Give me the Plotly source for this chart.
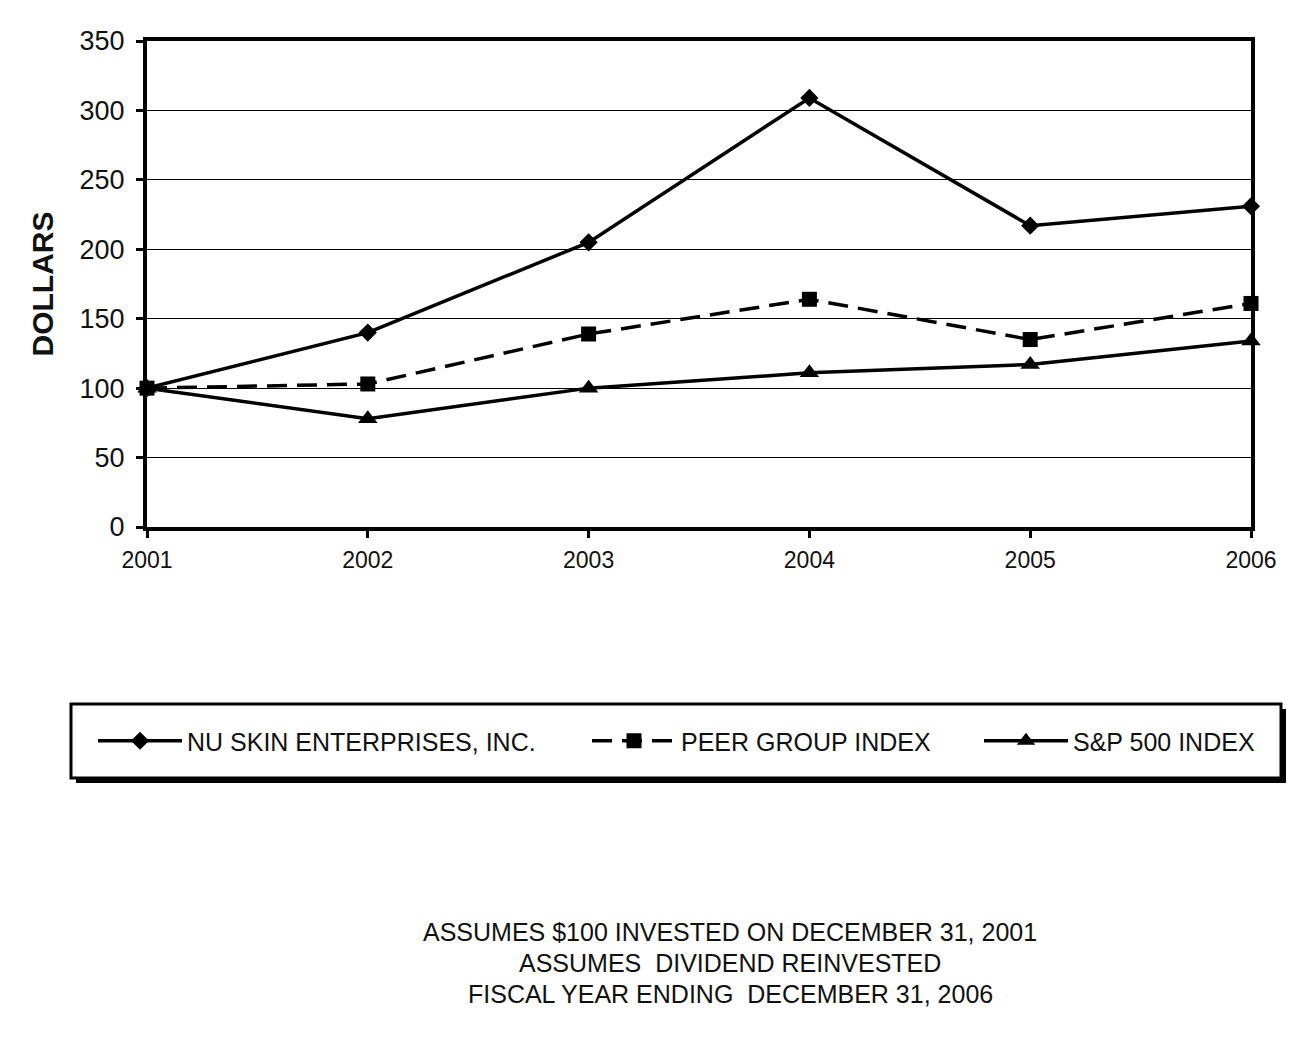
import plotly.graph_objects as go

years = [2001, 2002, 2003, 2004, 2005, 2006]
nu_skin = [100, 140, 205, 309, 217, 231]
peer_group = [100, 103, 139, 164, 135, 161]
sp500 = [100, 78, 100, 111, 117, 134]

series_names = ["NU SKIN ENTERPRISES, INC.", "PEER GROUP INDEX", "S&P 500 INDEX"]
y_ticks = [0, 50, 100, 150, 200, 250, 300, 350]
notes = [
    "ASSUMES $100 INVESTED ON DECEMBER 31, 2001",
    "ASSUMES  DIVIDEND REINVESTED",
    "FISCAL YEAR ENDING  DECEMBER 31, 2006",
]

FONT = "Liberation Sans, Arial, sans-serif"
W, H = 1312, 1044
OFF = 7  # page offset of the rendered figure
PL, PT, PW, PH = 146, 40, 1104, 486  # plot area in screenshot pixels
L, T = PL - OFF, PT - OFF
R = W - L - PW
B = H - T - PH


def px_x(p):
    return (p - PL) / PW


def px_y(p):
    return (PT + PH - p) / PH


fig = go.Figure()
fig.add_trace(go.Scatter(
    x=years, y=nu_skin, name=series_names[0], mode="lines+markers",
    line=dict(color="black", width=3.5),
    marker=dict(symbol="diamond", size=14, color="black"),
    legend="legend", showlegend=True, cliponaxis=False,
))
fig.add_trace(go.Scatter(
    x=years, y=peer_group, name=series_names[1], mode="lines+markers",
    line=dict(color="black", width=3.5, dash="20px,10px"),
    marker=dict(symbol="square", size=15, color="black"),
    legend="legend2", showlegend=True, cliponaxis=False,
))
fig.add_trace(go.Scatter(
    x=years, y=sp500, name=series_names[2], mode="lines+markers",
    line=dict(color="black", width=3.5),
    marker=dict(symbol="triangle-up", size=17, color="black"),
    legend="legend3", showlegend=True, cliponaxis=False,
))

leg_common = dict(
    orientation="h", bgcolor="rgba(0,0,0,0)", borderwidth=0,
    font=dict(family=FONT, size=25, color="#111"),
    itemwidth=84, yanchor="middle", xanchor="left", y=px_y(740),
)

fig.update_layout(
    width=W, height=H,
    margin=dict(l=L, r=R, t=T, b=B),
    paper_bgcolor="white", plot_bgcolor="white",
    font=dict(family=FONT, color="#111"),
    showlegend=True,
    legend=dict(x=px_x(92), **leg_common),
    legend2=dict(x=px_x(586), **leg_common),
    legend3=dict(x=px_x(978), **leg_common),
    xaxis=dict(
        range=[2001, 2006], tickvals=years, ticktext=[str(y) for y in years],
        showgrid=False, showline=True, linecolor="black", linewidth=4, mirror=True,
        ticks="outside", ticklen=7, tickwidth=3, tickcolor="black",
        tickfont=dict(family=FONT, size=23, color="#111"), ticklabelstandoff=2,
        zeroline=False,
    ),
    yaxis=dict(
        range=[0, 350], tickvals=y_ticks,
        showgrid=True, gridcolor="black", gridwidth=1,
        showline=True, linecolor="black", linewidth=4, mirror=True,
        ticks="outside", ticklen=7, tickwidth=3, tickcolor="black",
        tickfont=dict(family=FONT, size=27, color="#111"), ticklabelstandoff=6,
        zeroline=False,
        title=dict(text="<b>DOLLARS</b>", font=dict(family=FONT, size=30, color="#111"), standoff=18),
    ),
    shapes=[
        dict(type="rect", xref="paper", yref="paper",
             x0=px_x(75), x1=px_x(1285), y0=px_y(708), y1=px_y(782),
             fillcolor="black", line=dict(width=0), layer="above"),
        dict(type="rect", xref="paper", yref="paper",
             x0=px_x(70), x1=px_x(1280), y0=px_y(703), y1=px_y(777),
             fillcolor="white", line=dict(color="black", width=3), layer="above"),
    ],
)

for txt, py in zip(notes, [931, 962, 993]):
    fig.add_annotation(
        text=txt, xref="paper", yref="paper", x=px_x(729), y=px_y(py),
        xanchor="center", yanchor="middle", showarrow=False,
        font=dict(family=FONT, size=25, color="#111"),
    )

fig.write_html("out.html")
